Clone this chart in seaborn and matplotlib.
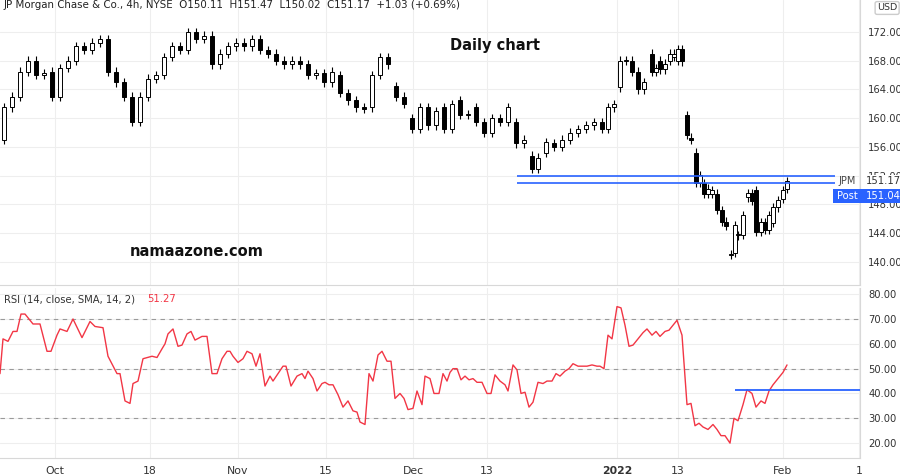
import numpy as np
import pandas as pd
import matplotlib
matplotlib.use("Agg")
import matplotlib.pyplot as plt
import matplotlib.patches as mpatches
import seaborn as sns

sns.set_theme(style="white")
plt.rcParams['font.family'] = ['DejaVu Sans']

# time position (chart time units), open, close
t = [4,12,20,28,36,44,52,60,68,76,84,92,100,108,116,124,132,140,148,156,164,172,180,188,196,204,212,220,228,236,244,252,260,268,276,284,292,300,308,316,324,332,340,348,356,364,372,380,388,396,404,412,420,428,436,444,452,460,468,476,484,492,500,508,516,524,532,538,546,554,562,570,578,586,594,602,608,614,620,626,632,638,644,652,656,660,665,670,674,678,682,687,691,696,700,704,708,712,717,722,726,731,735,738,743,748,752,756,761,765,769,773,778,783,787]
opens = [157,161.5,163,166.5,168,166,166.5,163,167,168,170,169.5,170.5,171,166.5,165,163,159.5,163,165.5,166,168.5,170,169.5,172,171,171.5,167.5,169,170,170.5,170,171,169.5,169,168,167.5,168,167.5,166,166.3,165,166,163.5,162.5,161.5,161.5,166,168.5,164.5,163,160,158.5,161.5,159,161.5,158.5,162.5,160.5,161.5,159.5,158,160,159.5,159.5,156.5,154.8,153,155.2,156.5,156,157,158,158.5,159,159.5,158.5,161.5,164.3,168,168,166.5,164,169,166.5,168,166.8,168,168.5,168,169.6,160.4,157.3,155.2,151,151,149.5,149.5,149.5,147.2,145.6,141,141.3,143.7,143.8,149,149.6,150,144.2,145.5,144.5,145.4,147.6,148.8,150.2]
closes = [161.5,163,166.5,168,166,166.3,163,167,168,170,169.5,170.5,171,166.5,165,163,159.5,163,165.5,166,168.5,170,169.5,172,171,171.5,167.5,169,170,170.5,170,171,169.5,169,168,167.5,168,167.5,166,166.3,165,166.5,163.5,162.5,161.5,161.3,166,168.5,167.5,163,162,158.5,161.5,159,161,158.5,162,160.5,160.5,159.5,158,160,159.5,161.5,156.5,157,153,154.5,156.7,156,157,158,158.5,159,159.5,158.5,161.5,162,168,168,166.5,164,165,166.5,167,166.8,167.6,169,169,169.6,167.9,157.7,157,151,152.1,149.5,150.2,150,147.3,145.6,145,141,145.1,143.7,146.5,149.6,148.5,144.2,145.5,144.5,146.5,147.6,148.6,150,151.2]

# RSI readings: (time position, value)
rsi_points = [(0,48),(3,62),(8,61),(13,65),(17,65),(21,72),(25,72),(33,68),(40,68),(47,57),(51,57),(57,63.5),(60,66),(67,65),(73,70),(82,62.5),(90,69),(95,67),(103,66.5),(108,55),(117,48),(120,48),(125,37),(130,36),(133,44),(138,45),(143,54),(152,55),(157,54.5),(162,58),(165,60),(168,64),(173,66),(178,59),(182,59.5),(187,64),(191,65),(195,61.5),(202,63),(207,63),(212,48),(217,48),(222,54),(227,57),(230,57),(233,55),(238,52.5),(243,54),(247,57),(252,56),(256,51),(260,56),(265,43),(270,47),(273,45),(278,48),(283,51),(286,51),(291,43),(297,47),(302,48),(305,46),(308,49),(313,46),(317,41),(322,44),(325,44.5),(329,43.5),(333,43.5),(338,39.5),(343,34.5),(348,37),(353,33),(357,32.5),(360,28.5),(365,27.5),(369,48),(373,45),(378,55.5),(382,57),(387,53),(391,53),(395,38),(400,40),(404,38),(408,33.5),(413,34),(417,41),(422,35.5),(425,47),(430,46),(434,40),(439,40),(443,48),(447,45),(450,48.5),(453,50),(457,50),(461,45.5),(465,47),(469,45.5),(473,46),(477,44.5),(482,44.5),(487,40),(491,40),(495,47.5),(500,45),(505,43.5),(508,41),(513,51.5),(517,49.5),(521,40),(525,40.5),(529,34.5),(533,36.5),(538,44.5),(543,44),(547,45),(552,45),(556,48),(560,47),(565,49),(569,50),(573,52),(578,51),(583,51),(587,51),(592,51.5),(597,51),(600,51),(604,50),(608,63.5),(612,62),(617,75),(621,74.5),(625,67.5),(629,59),(633,59.5),(638,62),(643,64.5),(647,66),(652,63.5),(656,65),(660,63),(665,65),(669,65.5),(673,67.5),(677,69.5),(682,63.5),(687,35.5),(691,36),(695,27),(699,28),(703,26.5),(708,25.5),(713,27.5),(717,25.5),(721,23),(725,23),(730,20),(734,30),(738,29),(743,35.5),(747,41.5),(752,40),(756,34.5),(761,37),(765,36),(769,41),(773,43.5),(778,46),(783,48.5),(787,51.5)]

price_ticks = [140,144,148,152,156,160,164,168,172]
rsi_ticks = [20,30,40,50,60,70,80]
month_pos = [55,150,238,326,413,487,617,678,783,859]
month_lbl = ["Oct","18","Nov","15","Dec","13","2022","13","Feb","1"]

W, H = 900, 476
fig = plt.figure(figsize=(9, 4.76), dpi=100)
fig.patch.set_facecolor("white")
ax1 = fig.add_axes([0, (H-285)/H, 860/W, 285/H])
ax2 = fig.add_axes([0, (H-458)/H, 860/W, 170/H])

grid = "#eeeeee"
for ax in (ax1, ax2):
    ax.set_xlim(0, 860)
    ax.set_facecolor("white")
    for s in ax.spines.values():
        s.set_color("#d8d8d8"); s.set_linewidth(0.8)
    ax.spines['left'].set_visible(False)
    ax.spines['top'].set_visible(False)
    for p in month_pos:
        ax.axvline(p, color=grid, lw=0.8, zorder=0)
    ax.yaxis.tick_right()
    ax.tick_params(axis='y', length=0, labelsize=7.2, labelcolor="#333333", pad=6)

# candles
ax1.set_ylim(136.8, 176.45)
for p in price_ticks:
    ax1.axhline(p, color=grid, lw=0.8, zorder=0)
for x, o, c in zip(t, opens, closes):
    lo, hi = min(o, c), max(o, c)
    ax1.vlines(x, lo - 0.6, hi + 0.6, color="black", lw=0.8, zorder=2)
    up = c >= o
    ax1.bar(x, max(hi - lo, 0.15), bottom=lo, width=3.2,
            color="white" if up else "black", edgecolor="black", lw=0.7, zorder=3)
ax1.set_yticks(price_ticks)
ax1.set_yticklabels([f"{v:.2f}" for v in price_ticks])
ax1.set_xticks([])
ax1.hlines([152.0, 150.95], 517, 835, color="#2962ff", lw=1.2, zorder=4)

ax1.text(4, 175.8, "JP Morgan Chase & Co., 4h, NYSE  O150.11  H151.47  L150.02  C151.17  +1.03 (+0.69%)",
         fontsize=7.4, color="#222222", va="center")
ax1.text(450, 170.1, "Daily chart", fontsize=10.5, fontweight="bold", ha="left", va="center", color="#111111")
ax1.text(130, 141.5, "namaazone.com", fontsize=10.5, fontweight="bold", ha="left", va="center", color="#111111")

# right side labels
fig.text(838/W, 1-181/H, "JPM", fontsize=7, color="#444444", va="center")
fig.text(866/W, 1-181/H, "151.17", fontsize=7.2, color="#333333", va="center",
         bbox=dict(boxstyle="square,pad=0.15", fc="white", ec="none"))
fig.add_artist(mpatches.Rectangle((833/W, 1-203/H), 67/W, 14/H, transform=fig.transFigure,
                                  fc="#2962ff", ec="none"))
fig.text(837/W, 1-196/H, "Post", fontsize=7.2, color="white", va="center")
fig.text(866/W, 1-196/H, "151.04", fontsize=7.2, color="white", va="center")
fig.text(877/W, 1-8/H, "USD", fontsize=6.8, color="#333333", va="center",
         bbox=dict(boxstyle="round,pad=0.2", fc="white", ec="#cccccc"))

# RSI
ax2.set_ylim(14.0, 82.5)
for p in rsi_ticks:
    ax2.axhline(p, color=grid, lw=0.8, zorder=0)
for p in (30, 50, 70):
    ax2.axhline(p, color="#9a9a9a", lw=0.8, ls=(0, (4, 4)), zorder=1)
df = pd.DataFrame(rsi_points, columns=["t", "rsi"])
sns.lineplot(data=df, x="t", y="rsi", ax=ax2, color="#f23645", lw=1.0, zorder=3)
ax2.hlines(41.5, 735, 860, color="#2962ff", lw=1.3, zorder=4)
ax2.set_xlabel(""); ax2.set_ylabel("")
ax2.set_yticks(rsi_ticks)
ax2.set_yticklabels([f"{v:.2f}" for v in rsi_ticks])
ax2.set_xticks(month_pos)
ax2.set_xticklabels(month_lbl)
ax2.tick_params(axis='x', length=0, labelsize=7.8, labelcolor="#333333", pad=6)
for lbl in ax2.get_xticklabels():
    if lbl.get_text() == "2022":
        lbl.set_fontweight("bold")
ax2.text(4, 78, "RSI (14, close, SMA, 14, 2)", fontsize=7.2, color="#333333", va="center")
ax2.text(147, 78, "51.27", fontsize=7.2, color="#f23645", va="center")

fig.savefig("out.png", dpi=100)
